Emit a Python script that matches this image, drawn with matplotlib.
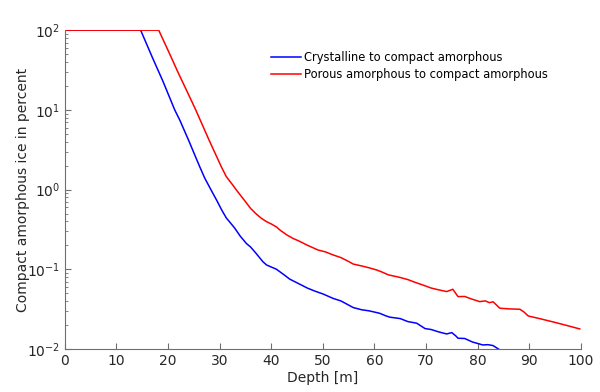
import matplotlib
matplotlib.use("Agg")
import matplotlib.pyplot as plt

# crystalline -> compact amorphous
depth_cry = [0, 14.7, 17.0, 19.0, 21.3, 22.3, 24.1, 25.2, 26.2, 27.1, 28.3, 29.4, 30.5,
             31.3, 32.9, 34.0, 35.2, 36.0, 37.0, 38.4, 39.1, 41.0, 42.5, 43.6, 45.5,
             47.0, 48.5, 50.0, 52.0, 53.5, 55.9, 57.5, 59.0, 61.0, 62.2, 63.0, 65.0,
             66.5, 68.2, 69.8, 71.0, 72.5, 74.0, 75.0, 75.8, 76.2, 77.5, 79.0, 80.4,
             81.0, 82.0, 83.0, 84.0, 84.5]
pct_cry = [100, 100, 45, 23, 10, 7.4, 4.0, 2.7, 1.9, 1.4, 1.0, 0.74, 0.54,
           0.44, 0.33, 0.26, 0.21, 0.19, 0.16, 0.124, 0.113, 0.100, 0.085, 0.075, 0.065,
           0.058, 0.053, 0.049, 0.043, 0.040, 0.033, 0.031, 0.030, 0.028, 0.026, 0.025, 0.024,
           0.022, 0.021, 0.018, 0.0175, 0.0163, 0.0154, 0.0160, 0.0145, 0.0136, 0.0135, 0.0122, 0.0115,
           0.0112, 0.0113, 0.0110, 0.0100, 0.0095]

# porous amorphous -> compact amorphous
depth_por = [0, 18.2, 20.0, 22.0, 24.6, 25.4, 27.8, 29.3, 30.3, 31.3, 32.5, 33.5, 34.9,
             36.0, 37.0, 38.1, 39.1, 40.0, 41.0, 41.7, 43.0, 44.2, 45.5, 47.0, 49.1,
             50.5, 52.0, 53.5, 55.0, 55.9, 57.5, 59.0, 60.4, 61.5, 62.7, 64.9, 66.5,
             68.0, 69.8, 71.0, 72.5, 74.0, 75.2, 76.2, 77.5, 78.5, 80.4, 81.5, 82.3,
             83.0, 84.3, 86.0, 88.2, 89.0, 89.8, 92.0, 95.0, 97.5, 99.8]
pct_por = [100, 100, 56, 29, 12.8, 9.9, 4.4, 2.7, 1.95, 1.45, 1.15, 0.94, 0.72,
           0.58, 0.50, 0.435, 0.395, 0.37, 0.34, 0.31, 0.27, 0.244, 0.224, 0.20, 0.174,
           0.165, 0.151, 0.140, 0.125, 0.116, 0.110, 0.104, 0.098, 0.092, 0.085, 0.079, 0.074,
           0.068, 0.062, 0.058, 0.055, 0.0524, 0.056, 0.0453, 0.0455, 0.043, 0.0392, 0.040, 0.038,
           0.039, 0.0324, 0.0318, 0.0314, 0.029, 0.0259, 0.024, 0.0215, 0.0195, 0.0178]

labels = ["Crystalline to compact amorphous", "Porous amorphous to compact amorphous"]

fig = plt.figure(figsize=(6, 3.92), dpi=100)
ax = fig.add_axes([0.108, 0.110, 0.860, 0.813])

ax.plot(depth_cry, pct_cry, color="#0000ff", lw=1.1, label=labels[0])
ax.plot(depth_por, pct_por, color="#ff0000", lw=1.1, label=labels[1])

ax.set_yscale("log")
ax.set_xlim(0, 100)
ax.set_ylim(1e-2, 1e2)
ax.set_xticks(range(0, 101, 10))

# matlab-ish look: box off, ticks inside
for s in ["top", "right"]:
    ax.spines[s].set_visible(False)
for s in ["left", "bottom"]:
    ax.spines[s].set_color("#6e6e6e")
ax.tick_params(which="both", direction="in", colors="#6e6e6e", labelcolor="#262626", labelsize=10)
ax.tick_params(which="major", length=4)
ax.tick_params(which="minor", length=2)

ax.set_xlabel("Depth [m]", fontsize=10, color="#262626", labelpad=2)
ax.set_ylabel("Compact amorphous ice in percent", fontsize=10, color="#262626", labelpad=-2)

ax.legend(loc="upper left", bbox_to_anchor=(0.39, 0.95), frameon=False, fontsize=8.3,
          handlelength=2.6, handletextpad=0.3, labelspacing=0.35, borderaxespad=0)

fig.savefig("out.png", dpi=100)
